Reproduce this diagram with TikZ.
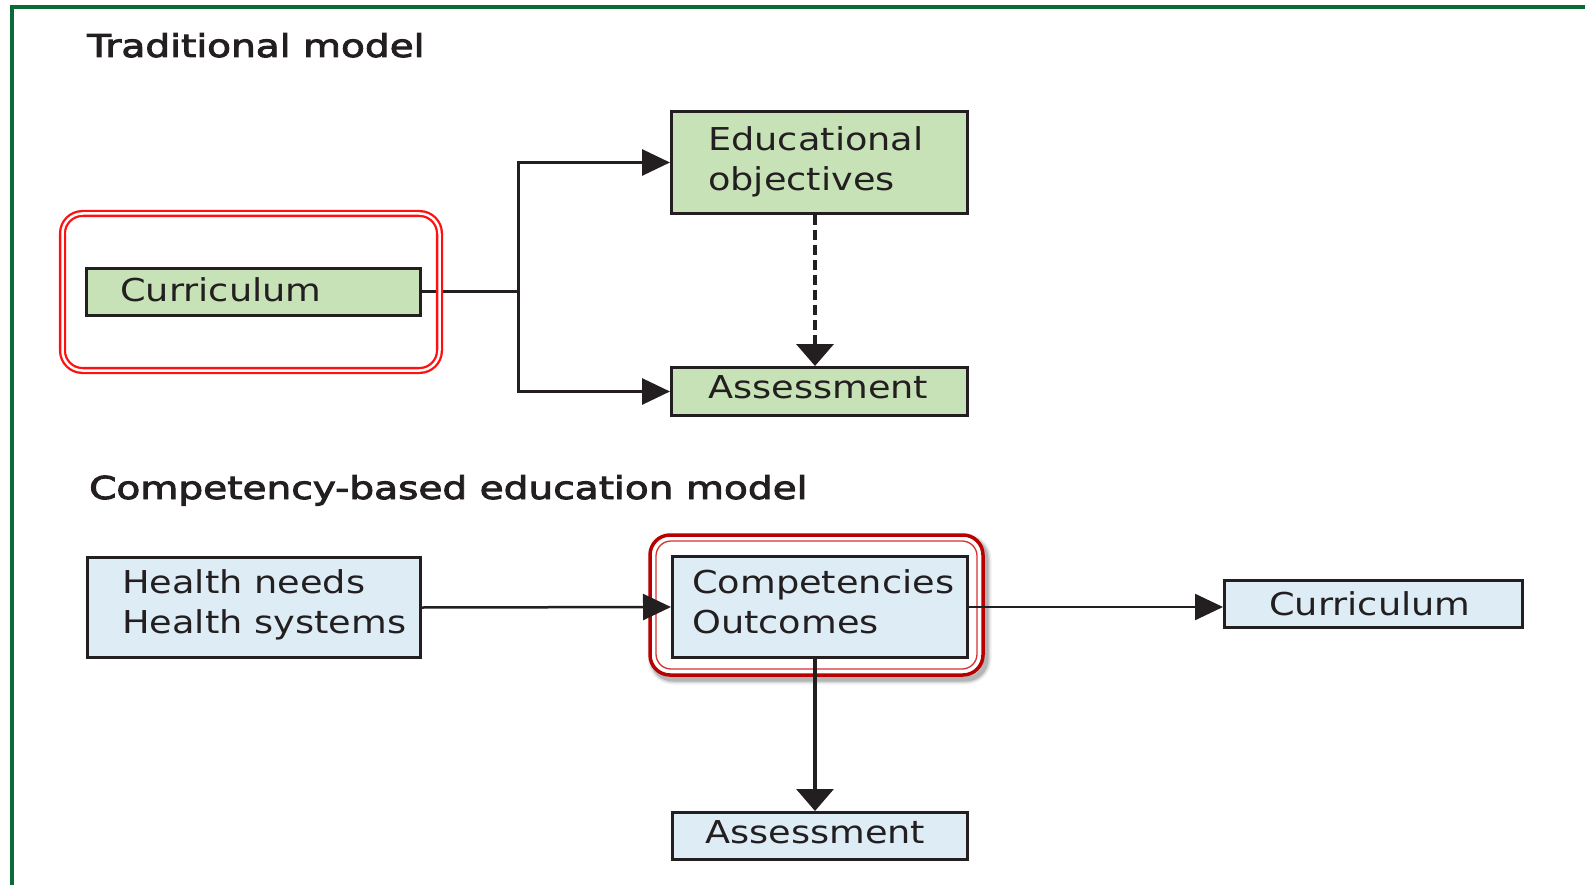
\documentclass[tikz,border=0pt]{standalone}
\usepackage{fontspec}
\usetikzlibrary{arrows.meta}
\newfontfamily\boxfont{DejaVu Sans}[FakeStretch=1.165]
\newfontfamily\headfont{DejaVu Sans}[FakeStretch=1.24, FakeBold=3]
\definecolor{ink}{HTML}{231F20}
\definecolor{pagegreen}{HTML}{0B6B37}
\definecolor{greenfill}{HTML}{C6E2B6}
\definecolor{bluefill}{HTML}{DEEDF5}
\definecolor{hired}{HTML}{FF1010}
\definecolor{darkred}{HTML}{B80000}
\definecolor{softred}{HTML}{D83030}
\begin{document}
\begin{tikzpicture}[x=1pt,y=-1pt,
  gbox/.style={draw=ink, fill=greenfill, line width=3pt, inner sep=0pt},
  bbox/.style={draw=ink, fill=bluefill, line width=3pt, inner sep=0pt},
  lbl/.style={inner sep=0pt, anchor=base west, text=ink,
    font=\boxfont\fontsize{31.5pt}{40pt}\selectfont},
  head/.style={inner sep=0pt, anchor=base west, text=ink,
    font=\headfont\fontsize{31.5pt}{40pt}\selectfont},
  conn/.style={draw=ink, line width=3pt},
  harrow/.style={-{Triangle[length=28pt,width=26pt]}},
  varrow/.style={-{Triangle[length=22pt,width=37pt]}}]
\useasboundingbox (0,0) rectangle (1585,885);

% page frame: top and left rule
\draw[pagegreen, line width=4pt] (12,885) -- (12,7) -- (1585,7);

% soft shadow and double outline round the competencies box
\foreach \w/\o in {11/0.06, 8/0.10, 5/0.16}
  \draw[black, opacity=\o, line width=\w pt, rounded corners=20pt]
    (653,539) rectangle (986,679);
\node[draw=darkred, fill=white, line width=3.5pt, rounded corners=20pt,
  minimum width=333pt, minimum height=140pt, inner sep=0pt, outer sep=0pt]
  (hl2) at (816.5,605) {};
\draw[softred, line width=1.3pt, rounded corners=15pt]
  ([shift={(6,6)}]hl2.north west) rectangle ([shift={(-6,-6)}]hl2.south east);

% traditional model boxes
\node[gbox, minimum width=334pt, minimum height=47pt] (cur1) at (253.5,292) {};
\node[gbox, minimum width=296pt, minimum height=102pt] (eo) at (819.5,162.5) {};
\node[gbox, minimum width=296pt, minimum height=48pt] (as1) at (819.5,391.5) {};

% competency-based model boxes
\node[bbox, minimum width=333pt, minimum height=100pt] (hn) at (254,607.5) {};
\node[bbox, minimum width=295pt, minimum height=101pt] (comp) at (820,607) {};
\node[bbox, minimum width=298pt, minimum height=47pt] (cur2) at (1373.5,604) {};
\node[bbox, minimum width=295pt, minimum height=47pt] (as2) at (820,836) {};

% connectors, traditional model
\coordinate (br) at (518,292);
\draw[conn] (cur1.east) -- (br);
\draw[conn, harrow] (br) |- (eo.west);
\draw[conn, harrow] (br) |- (as1.west);
\draw[conn, line width=4pt, dash pattern=on 10pt off 5pt, varrow]
  ([xshift=-4.5pt]eo.south) -- ([xshift=-4.5pt]as1.north);

% connectors, competency-based model
\draw[conn, line width=2.5pt, harrow] (hn.east) -- (comp.west);
\draw[conn, line width=2.5pt, harrow] (comp.east) -- (comp.east -| cur2.west);
\draw[conn, line width=3.5pt, varrow]
  ([xshift=-5pt]comp.south) -- ([xshift=-5pt]as2.north);

% bright double outline round the traditional curriculum box
\node[draw=hired, double=white, double distance=2.5pt, line width=2.3pt,
  rounded corners=20pt, minimum width=377pt, minimum height=157pt,
  inner sep=0pt, outer sep=0pt] (hl1) at (251,292) {};

% headings
\node[head] (t1) at (87,57) {Traditional model};
\node[head] (t2) at (89,499) {Competency-based education model};

% box texts
\node[lbl] (cur1t) at (120,302) {Curriculum};
\node[lbl] (eot) at (708,151) {\begin{tabular}[t]{@{}l@{}}Educational\\objectives\end{tabular}};
\node[lbl] (as1t) at (708,398) {Assessment};
\node[lbl] (hnt) at (122,593) {\begin{tabular}[t]{@{}l@{}}Health needs\\Health systems\end{tabular}};
\node[lbl] (compt) at (692,593) {\begin{tabular}[t]{@{}l@{}}Competencies\\Outcomes\end{tabular}};
\node[lbl] (cur2t) at (1269,615) {Curriculum};
\node[lbl] (as2t) at (705,843) {Assessment};
\end{tikzpicture}
\end{document}
